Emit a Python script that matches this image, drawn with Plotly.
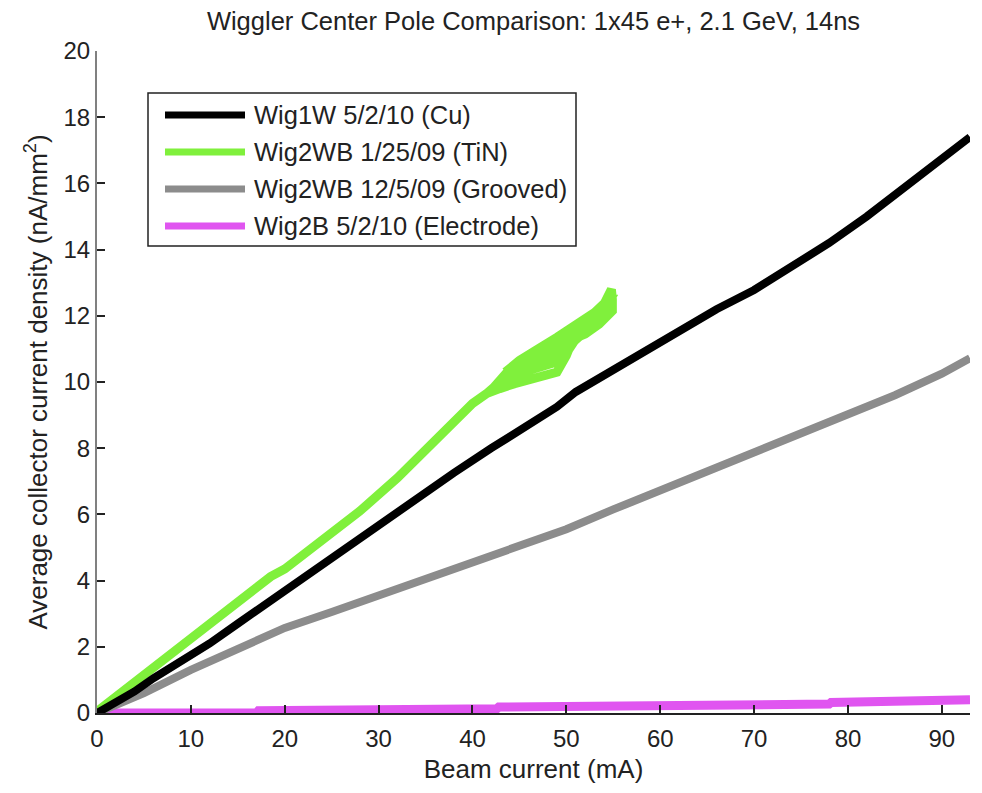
import plotly.graph_objects as go

# Beam current (mA) vs average collector current density (nA/mm^2)
cu_x = [0, 2, 4, 6, 8, 10, 12, 15, 18, 20, 23, 26, 30, 34, 38, 42, 45, 47, 49, 51,
        54, 57, 60, 63, 66, 70, 74, 78, 82, 86, 90, 93]
cu_y = [0, 0.3, 0.65, 1.05, 1.4, 1.75, 2.1, 2.7, 3.3, 3.72, 4.3, 4.9, 5.65, 6.45, 7.25, 8.0,
        8.55, 8.95, 9.25, 9.7, 10.2, 10.7, 11.2, 11.7, 12.2, 12.78, 13.5, 14.2, 15.0, 15.85,
        16.74, 17.4]

# TiN run: ramp up, then repeated sweeps between ~42 and ~55 mA
tin_x = [0, 3, 6, 10, 14, 17, 18.5, 20, 24, 28, 32, 36, 40, 42, 44, 46.4, 49.3, 52.2, 54, 54.8,
         54.9, 54.9, 53.5, 52, 50.7, 50, 49, 47.5, 46.4, 44.5, 42.9, 41.5,
         42.5, 44, 46, 48, 49.5, 51, 53, 54.5,
         54, 52, 50, 48, 46, 44, 43,
         44, 46, 48, 50, 52, 54,
         53, 51, 49, 47, 45, 43.5,
         45.5, 47.5, 49.5, 51.5, 53.5, 54.7,
         54.5, 53, 51, 49, 47, 45, 43.5]
tin_y = [0.05, 0.7, 1.35, 2.2, 3.1, 3.8, 4.12, 4.35, 5.2, 6.1, 7.1, 8.2, 9.35, 9.75, 10.4, 10.9,
         11.35, 11.8, 12.35, 12.8,
         12.5, 12.15, 11.75, 11.45, 11.3, 10.8, 10.3, 10.2, 10.12, 9.95, 9.8, 9.65,
         9.9, 10.15, 10.35, 10.5, 10.65, 11.3, 11.65, 12.2,
         12.05, 11.6, 11.1, 10.75, 10.6, 10.35, 10.05,
         10.25, 10.72, 11.0, 11.3, 11.65, 12.1,
         11.9, 11.5, 11.2, 10.85, 10.6, 10.0,
         10.45, 10.6, 10.9, 11.4, 11.9, 12.5,
         12.5, 12.1, 11.7, 11.35, 11.0, 10.65, 10.3]

grv_x = [0, 5, 10, 15, 20, 25, 30, 35, 40, 45, 50, 55, 60, 65, 70, 75, 80, 85, 90, 93]
grv_y = [0, 0.6, 1.3, 1.95, 2.57, 3.05, 3.55, 4.05, 4.5, 5.0, 5.55, 6.15, 6.72, 7.3, 7.88,
         8.45, 9.0, 9.6, 10.25, 10.72]

ele_x = [0, 17, 17.2, 31.5, 31.7, 42.6, 42.8, 55.7, 55.9, 64, 78, 78.2, 89, 89.2, 93]
ele_y = [0, 0.0, 0.07, 0.08, 0.12, 0.13, 0.18, 0.19, 0.23, 0.25, 0.27, 0.32, 0.33, 0.39, 0.4]

names = ["Wig1W 5/2/10 (Cu)", "Wig2WB 1/25/09 (TiN)",
         "Wig2WB 12/5/09 (Grooved)", "Wig2B 5/2/10 (Electrode)"]
colors = ["#000000", "#80F03C", "#8C8C8C", "#E055F0"]
widths = [8, 9, 8, 9]
series = [(cu_x, cu_y), (tin_x, tin_y), (grv_x, grv_y), (ele_x, ele_y)]

FONT = "Liberation Sans, Arial, sans-serif"
TXT = "#222222"
W, H = 982, 793
ML, MR, MT, MB = 97, 12, 51, 80

fig = go.Figure()
# draw order: electrode first, then grooved, TiN, Cu on top
for i in [3, 2, 1, 0]:
    x, y = series[i]
    fig.add_trace(go.Scatter(x=x, y=y, mode="lines", name=names[i],
                             line=dict(color=colors[i], width=widths[i]),
                             showlegend=False))


def px_to_paper(px, py):
    pw = W - ML - MR
    ph = H - MT - MB
    return (px - ML) / pw, (H - MB - py) / ph


# hand-built legend box with long line samples
bx0, by0 = px_to_paper(148, 93)
bx1, by1 = px_to_paper(576, 246)
fig.add_shape(type="rect", xref="paper", yref="paper", x0=bx0, y0=by1, x1=bx1, y1=by0,
              line=dict(color=TXT, width=1.5), fillcolor="white", layer="above")
row_y = [115, 152, 189, 226]
for name, col, ry in zip(names, colors, row_y):
    lx0, ly = px_to_paper(165, ry)
    lx1, _ = px_to_paper(245, ry)
    fig.add_shape(type="line", xref="paper", yref="paper", x0=lx0, x1=lx1, y0=ly, y1=ly,
                  line=dict(color=col, width=7), layer="above")
    tx, _ = px_to_paper(252, ry)
    fig.add_annotation(xref="paper", yref="paper", x=tx, y=ly, text=name, showarrow=False,
                       xanchor="left", yanchor="middle",
                       font=dict(family=FONT, size=25.5, color=TXT))

fig.update_layout(
    width=W, height=H,
    margin=dict(l=ML, r=MR, t=MT, b=MB),
    paper_bgcolor="white", plot_bgcolor="white",
    title=dict(text="Wiggler Center Pole Comparison: 1x45 e+, 2.1 GeV, 14ns",
               x=0.5, xanchor="center", xref="paper", y=0.974, yanchor="middle",
               font=dict(family=FONT, size=25.5, color=TXT)),
    font=dict(family=FONT, size=24, color=TXT),
)
fig.update_xaxes(range=[0, 93], tickvals=[0, 10, 20, 30, 40, 50, 60, 70, 80, 90],
                 ticks="inside", ticklen=8, tickcolor=TXT, tickwidth=1.5,
                 showline=True, linecolor=TXT, linewidth=1.5,
                 showgrid=False, zeroline=False, ticklabelstandoff=3,
                 tickfont=dict(family=FONT, size=24, color=TXT),
                 title=dict(text="Beam current (mA)", standoff=9,
                            font=dict(family=FONT, size=26, color=TXT)))
fig.update_yaxes(range=[0, 20], tickvals=[0, 2, 4, 6, 8, 10, 12, 14, 16, 18, 20],
                 ticks="inside", ticklen=8, tickcolor=TXT, tickwidth=1.5,
                 showline=True, linecolor="#808080", linewidth=2,
                 showgrid=False, zeroline=False,
                 tickfont=dict(family=FONT, size=24, color=TXT),
                 title=dict(text="Average collector current density (nA/mm<sup>2</sup>)",
                            standoff=8,
                            font=dict(family=FONT, size=26, color=TXT)))

fig.write_html("out.html")
